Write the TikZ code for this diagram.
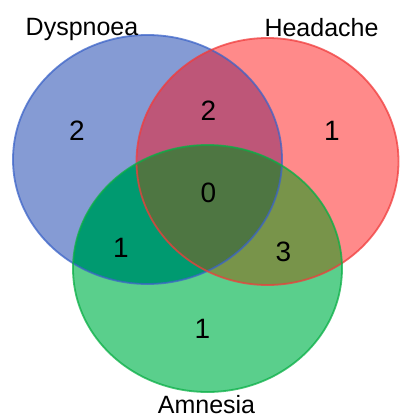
\documentclass[tikz,border=0pt]{standalone}
\usepackage{fontspec}
\setmainfont{Liberation Sans}
\definecolor{bonly}{RGB}{133,155,212}
\definecolor{ronly}{RGB}{255,138,138}
\definecolor{gonly}{RGB}{90,207,140}
\definecolor{brc}{RGB}{190,86,120}
\definecolor{bgc}{RGB}{0,154,112}
\definecolor{rgc}{RGB}{120,148,74}
\definecolor{allc}{RGB}{78,118,66}
\definecolor{bedge}{RGB}{60,100,200}
\definecolor{redge}{RGB}{240,60,60}
\definecolor{gedge}{RGB}{10,175,70}
\tikzset{
  setlabel/.style={font=\fontsize{25}{25}\selectfont, anchor=base, inner sep=0pt},
  count/.style={font=\fontsize{28}{28}\selectfont, anchor=center},
  edge/.style={line width=1.8pt, draw opacity=0.75}
}
\begin{document}
\begin{tikzpicture}[x=1pt,y=-1pt]
\useasboundingbox (0,0) rectangle (401,418);
\def\Bpath{(147.5,159.5) ellipse [x radius=134.5pt, y radius=124.5pt]}
\def\Rpath{(267.5,161.5) ellipse [x radius=131pt, y radius=123.5pt]}
\def\Gpath{(207.5,268.5) ellipse [x radius=134.5pt, y radius=123.5pt]}
\fill[bonly] \Bpath;
\fill[ronly] \Rpath;
\fill[gonly] \Gpath;
\begin{scope}\clip \Bpath; \fill[brc] \Rpath; \end{scope}
\begin{scope}\clip \Bpath; \fill[bgc] \Gpath; \end{scope}
\begin{scope}\clip \Rpath; \fill[rgc] \Gpath; \end{scope}
\begin{scope}\clip \Bpath; \clip \Rpath; \fill[allc] \Gpath; \end{scope}
\draw[edge, bedge] \Bpath;
\draw[edge, redge] \Rpath;
\draw[edge, gedge] \Gpath;
\node[setlabel] (ld) at (82,35.5) {Dyspnoea};
\node[setlabel] (lh) at (321.5,36.5) {Headache};
\node[setlabel] (la) at (206.5,413.5) {Amnesia};
\node[count] (nb) at (77,131) {2};
\node[count] (nbr) at (208.5,110.5) {2};
\node[count] (nr) at (332,131) {1};
\node[count] (nall) at (208.5,193) {0};
\node[count] (nbg) at (121,248) {1};
\node[count] (nrg) at (283.5,251.5) {3};
\node[count] (ng) at (202.5,329) {1};
\end{tikzpicture}
\end{document}
